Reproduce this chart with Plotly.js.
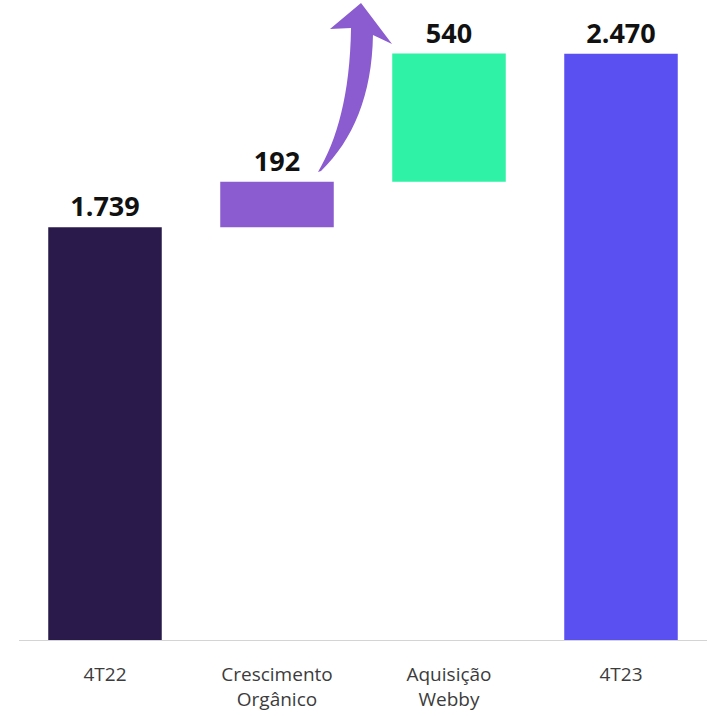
<!DOCTYPE html>
<html><head><meta charset="utf-8">
<script src="https://cdn.plot.ly/plotly-3.0.1.min.js"></script>
<style>html,body{margin:0;padding:0;background:#fff}#chart{width:708px;height:716px}</style>
</head><body><div id="chart"></div>
<script>
const categories = ["4T22", "Crescimento<br>Orgânico", "Aquisição<br>Webby", "4T23"];
const values = [1739, 192, 540, 2470];
const measures = ["absolute", "relative", "relative", "total"];
const colors = ["#2a1a4c", "#8a5ccf", "#2ff2a6", "#5a50f2"];

// cumulative bases for waterfall
const bases = [];
let run = 0;
values.forEach((v, i) => {
  if (measures[i] === "relative") { bases.push(run); run += v; }
  else { bases.push(0); run = v; }
});

const W = 708, H = 716;
const m = {l: 19, r: 1, t: 23, b: 76};
const pw = W - m.l - m.r, ph = H - m.t - m.b;
function px(x) { return ((x - m.l) / pw).toFixed(4); }
function py(y) { return ((H - m.b - y) / ph).toFixed(4); }
function P(x, y) { return px(x) + "," + py(y); }

// curved arrow (decoration) in pixel coordinates converted to paper
const arrowPath = "M " + P(318,172) +
  " C " + P(337,140) + " " + P(350,95) + " " + P(351,28) +
  " L " + P(330,29) + " L " + P(361,3) + " L " + P(392,44) + " L " + P(373,35) +
  " C " + P(372,95) + " " + P(353,140) + " " + P(321,171) + " Z";

const trace = {
  type: "bar",
  x: categories,
  y: values,
  base: bases,
  marker: {color: colors, line: {width: 0}},
  width: 0.66,
  text: values.map(v => v),
  texttemplate: "%{text:,}",
  textposition: "outside",
  cliponaxis: false,
  textfont: {family: "Open Sans, sans-serif", size: 27, color: "#111", weight: 700},
  hoverinfo: "none"
};

const layout = {
  width: W, height: H,
  margin: m,
  separators: ",.",
  paper_bgcolor: "#fff", plot_bgcolor: "#fff",
  showlegend: false,
  font: {family: "Open Sans, sans-serif"},
  xaxis: {
    type: "category",
    showline: true, linecolor: "#d4d4d4", linewidth: 1,
    showgrid: false, zeroline: false,
    ticks: "", ticklabelstandoff: 17,
    tickfont: {size: 19, color: "#3c3c3c"}
  },
  yaxis: {
    range: [0, 2600],
    visible: false, showgrid: false, zeroline: false
  },
  shapes: [{
    type: "path", xref: "paper", yref: "paper",
    path: arrowPath,
    fillcolor: "#8a5ccf", line: {width: 0}
  }]
};

Plotly.newPlot("chart", [trace], layout, {displayModeBar: false, staticPlot: true});
</script>
</body></html>
